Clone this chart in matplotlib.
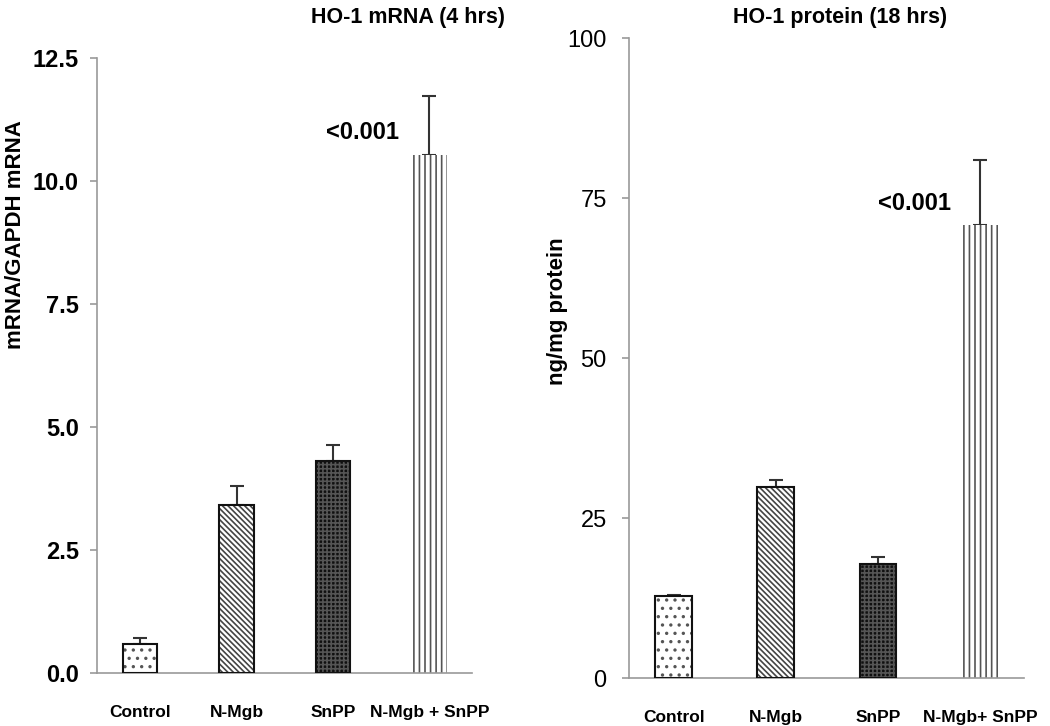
import numpy as np
import matplotlib
matplotlib.use("Agg")
import matplotlib.pyplot as plt

plt.rcParams['font.family'] = ['Liberation Sans', 'DejaVu Sans']
plt.rcParams['hatch.linewidth'] = 1.2

groups = ["Control", "N-Mgb", "SnPP", "N-Mgb + SnPP"]
groups_r = ["Control", "N-Mgb", "SnPP", "N-Mgb+ SnPP"]

mrna = [0.59, 3.41, 4.31, 10.53]
mrna_err = [0.13, 0.39, 0.32, 1.20]

protein = [12.8, 29.8, 17.8, 70.8]
protein_err = [0.2, 1.1, 1.1, 10.1]

# fill style of each bar: facecolor, hatch colour, hatch, draw outline
styles = [
    ("white", "#555555", "..", True),
    ("white", "#444444", "\\\\\\\\\\\\", True),
    ("#101010", "#555555", "++++", True),
    ("white", "#555555", "|||", False),
]

fig = plt.figure(figsize=(10.5, 7.26), dpi=100)
ax1 = fig.add_axes([0.0924, 0.073, 0.357, 0.847])
ax2 = fig.add_axes([0.599, 0.066, 0.376, 0.8815])


def draw(ax, vals, errs, labels, width):
    x = np.arange(len(vals))
    for i, (fc, hc, h, outline) in enumerate(styles):
        ax.bar(x[i], vals[i], width, color=fc, edgecolor=hc, hatch=h, linewidth=0, zorder=2)
        if outline:
            ax.bar(x[i], vals[i], width, fill=False, edgecolor="#111111", linewidth=1.5, zorder=3)
    ax.errorbar(x, vals, yerr=[np.zeros(len(errs)), errs], fmt="none", ecolor="#333333",
                elinewidth=1.5, capsize=5, capthick=1.5, zorder=1)
    ax.set_xticks(x)
    ax.set_xticklabels(labels, fontsize=12.5, fontweight="bold")
    ax.tick_params(axis="x", length=0, pad=23)
    ax.tick_params(axis="y", length=5, color="#999999", width=1.2)
    for s in ["top", "right"]:
        ax.spines[s].set_visible(False)
    for s in ["left", "bottom"]:
        ax.spines[s].set_color("#999999")
        ax.spines[s].set_linewidth(1.2)


draw(ax1, mrna, mrna_err, groups, 0.36)
ax1.set_xlim(-0.446, 3.44)
ax1.set_ylim(0, 12.5)
ax1.set_yticks([0, 2.5, 5.0, 7.5, 10.0, 12.5])
ax1.set_yticklabels(["0.0", "2.5", "5.0", "7.5", "10.0", "12.5"], fontsize=17, fontweight="bold")
ax1.tick_params(axis="y", pad=8)
ax1.text(2.31, 10.98, "<0.001", fontsize=17, fontweight="bold", ha="center", va="center")

draw(ax2, protein, protein_err, groups_r, 0.36)
ax2.set_xlim(-0.44, 3.43)
ax2.set_ylim(0, 100)
ax2.set_yticks([0, 25, 50, 75, 100])
ax2.set_yticklabels(["0", "25", "50", "75", "100"], fontsize=17)
ax2.tick_params(axis="y", pad=11)
ax2.text(2.36, 74.2, "<0.001", fontsize=17, fontweight="bold", ha="center", va="center")

fig.text(408 / 1050, 1 - 18 / 726, "HO-1 mRNA (4 hrs)", fontsize=15.5, fontweight="bold",
         ha="center", va="center")
fig.text(840 / 1050, 1 - 18 / 726, "HO-1 protein (18 hrs)", fontsize=15.5, fontweight="bold",
         ha="center", va="center")
fig.text(16 / 1050, 1 - 235 / 726, "mRNA/GAPDH mRNA", fontsize=16, fontweight="bold",
         rotation=90, ha="center", va="center")
fig.text(557 / 1050, 1 - 311 / 726, "ng/mg protein", fontsize=16, fontweight="bold",
         rotation=90, ha="center", va="center")

fig.savefig("out.png", dpi=100)
